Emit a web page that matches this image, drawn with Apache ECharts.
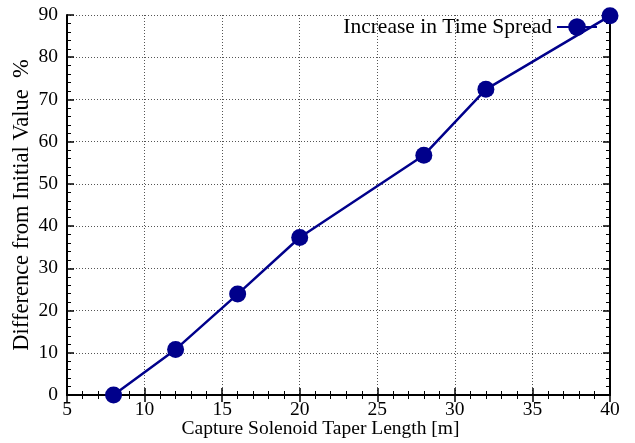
<!DOCTYPE html>
<html>
<head>
<meta charset="utf-8">
<script src="https://cdn.jsdelivr.net/npm/echarts@6/dist/echarts.min.js"></script>
<style>
  html, body { margin: 0; padding: 0; background: #fff; }
  #chart { width: 635px; height: 443px; }
</style>
</head>
<body>
<div id="chart"></div>
<script>
// taper length [m] and spread increase [%]
const taperLength = [8, 12, 16, 20, 28, 32, 40];
const spreadIncrease = [0, 10.8, 23.9, 37.3, 56.8, 72.4, 89.8];
const seriesName = "Increase in Time Spread";

const font = "Liberation Serif";
const navy = "#00008b";

let chart = echarts.init(document.getElementById("chart"));

// shared tick style, ticks point inward like the original plot
const tickStyle = {
  axisLine: { show: true, lineStyle: { color: "#000", width: 2 } },
  axisTick: { show: true, inside: true, length: 7, lineStyle: { color: "#000", width: 1.5 } },
  minorTick: { show: true, splitNumber: 5, length: 4, lineStyle: { color: "#000", width: 1 } },
};

chart.setOption({
  animation: false,
  textStyle: { fontFamily: font },
  grid: { left: 67, right: 25, top: 15, bottom: 48, outerBoundsMode: "none" },
  legend: {
    data: [seriesName],
    right: 37,
    top: 16,
    align: "right",
    itemWidth: 40,
    itemHeight: 22,
    itemGap: 6,
    textStyle: { fontFamily: font, fontSize: 21.5, color: "#000" },
    padding: [0, 0, 0, 2],
  },
  xAxis: [
    Object.assign({
      type: "value",
      min: 5,
      max: 40,
      interval: 5,
      name: "Capture Solenoid Taper Length [m]",
      nameLocation: "middle",
      nameGap: 24,
      nameMoveOverlap: false,
      // the title sits a bit left of the plot centre in the original
      nameTextStyle: { fontFamily: font, fontSize: 19.5, color: "#000", padding: [0, 36, 0, 0] },
      axisLabel: { fontFamily: font, fontSize: 19.5, color: "#000", margin: 5 },
      splitLine: { show: true, lineStyle: { color: "#555", type: [1, 2], width: 1 } },
    }, tickStyle),
    Object.assign({
      type: "value",
      position: "top",
      min: 5,
      max: 40,
      interval: 5,
      axisLabel: { show: false },
      splitLine: { show: false },
    }, tickStyle),
  ],
  yAxis: [
    Object.assign({
      type: "value",
      min: 0,
      max: 90,
      interval: 10,
      name: "Difference from Initial Value  %",
      nameLocation: "middle",
      nameGap: 33,
      nameMoveOverlap: false,
      nameTextStyle: { fontFamily: font, fontSize: 22.5, color: "#000" },
      axisLabel: { fontFamily: font, fontSize: 19.5, color: "#000", margin: 9 },
      splitLine: { show: true, lineStyle: { color: "#555", type: [1, 2], width: 1 } },
    }, tickStyle),
    Object.assign({
      type: "value",
      position: "right",
      min: 0,
      max: 90,
      interval: 10,
      axisLabel: { show: false },
      splitLine: { show: false },
    }, tickStyle),
  ],
  series: [
    {
      name: seriesName,
      type: "line",
      data: taperLength.map((x, i) => [x, spreadIncrease[i]]),
      symbol: "circle",
      symbolSize: 17,
      clip: false,
      lineStyle: { color: navy, width: 2.5 },
      itemStyle: { color: navy },
      z: 5,
    },
  ],
});
</script>
</body>
</html>
